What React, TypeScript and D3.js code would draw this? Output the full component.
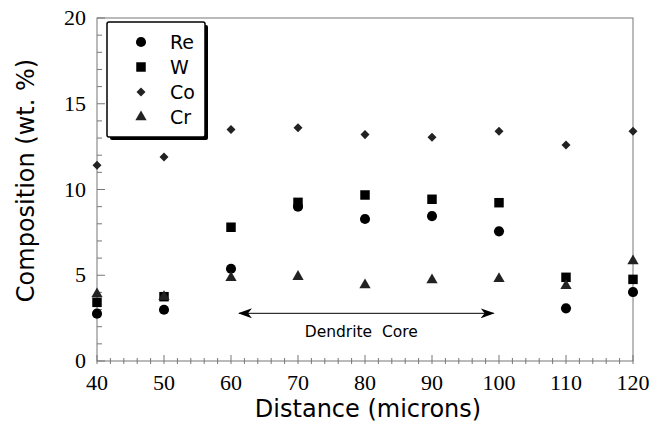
import React from "react";
import * as d3 from "d3";

const distances = [40, 50, 60, 70, 80, 90, 100, 110, 120];
const reValues = [2.76, 2.99, 5.38, 9.0, 8.28, 8.45, 7.56, 3.07, 4.02];
const wValues = [3.42, 3.75, 7.8, 9.25, 9.68, 9.43, 9.23, 4.88, 4.76];
const coValues = [11.41, 11.9, 13.5, 13.6, 13.2, 13.05, 13.4, 12.6, 13.4];
const crValues = [3.9, 3.75, 4.86, 4.92, 4.43, 4.72, 4.8, 4.39, 5.83];
const xTicks = [40, 50, 60, 70, 80, 90, 100, 110, 120];
const yTicks = [0, 5, 10, 15, 20];
const seriesNames = ["Re", "W", "Co", "Cr"];
const arrowRange = [61.2, 99.2];
const arrowLevel = 2.78;
const annotationAt = 61.6;
const annotation = "Dendrite  Core";

const W = 664, H = 429;
const M = { left: 97, right: 31, top: 18, bottom: 68 };

export default function App() {
  const x = d3.scaleLinear().domain([40, 120]).range([M.left, W - M.right]);
  const y = d3.scaleLinear().domain([0, 20]).range([H - M.bottom, M.top]);
  const sans = "DejaVu Sans";
  const serif = "Liberation Serif, Times New Roman, serif";

  const symbols = [d3.symbolCircle, d3.symbolSquare, d3.symbolDiamond2, d3.symbolTriangle];
  const sizes = [80, 90, 52, 55];
  const fills = ["#000", "#000", "#222", "#222"];
  const allSeries = [reValues, wValues, coValues, crValues];

  const shape = (i: number) => d3.symbol().type(symbols[i]).size(sizes[i])() as string;

  const yMinor = d3.range(0, 20.01, 1);
  const xMinor = d3.range(40, 120.01, 2);

  const [ax0, ax1] = arrowRange.map(x);
  const ay = y(arrowLevel);

  const lx = 107, ly = 22, lw = 98, lh = 115;

  return (
    <svg width={W} height={H} style={{ position: "absolute", left: 0, top: 0, background: "#fff" }}>
      <defs>
        <marker id="ah" viewBox="0 0 14 10" refX="13" refY="5" markerWidth="14" markerHeight="10" markerUnits="userSpaceOnUse" orient="auto-start-reverse">
          <path d="M0,0 L14,5 L0,10 L4,5 Z" fill="#000" />
        </marker>
      </defs>
      {/* frame */}
      <rect x={M.left} y={M.top} width={W - M.left - M.right} height={H - M.top - M.bottom} fill="none" stroke="#777" strokeWidth={1} />
      {/* y ticks */}
      {yMinor.map((v) => (
        <line key={"ym" + v} x1={M.left} x2={M.left + (v % 5 === 0 ? 8 : 5)} y1={y(v)} y2={y(v)} stroke="#777" />
      ))}
      {yTicks.map((v) => (
        <text key={"yt" + v} x={M.left - 11} y={y(v) + 7} textAnchor="end" fontFamily={serif} fontSize={22} fill="#000">{v}</text>
      ))}
      {/* x ticks */}
      {xMinor.map((v) => (
        <line key={"xm" + v} y1={y(0) + 3} y2={y(0) - ((v - 40) % 10 === 0 ? 6 : 3)} x1={x(v)} x2={x(v)} stroke="#777" />
      ))}
      {xTicks.map((v) => (
        <text key={"xt" + v} x={x(v)} y={y(0) + 29} textAnchor="middle" fontFamily={serif} fontSize={22} fill="#000">{v}</text>
      ))}
      <text x={(M.left + W - M.right) / 2 + 3} y={H - 12} textAnchor="middle" fontFamily={sans} fontSize={24} fill="#000">Distance (microns)</text>
      <text transform={`translate(34,${(M.top + H - M.bottom) / 2 - 9}) rotate(-90)`} textAnchor="middle" fontFamily={sans} fontSize={24} fill="#000">Composition (wt. %)</text>

      {/* arrow */}
      <line x1={ax0} x2={ax1} y1={ay} y2={ay} stroke="#000" strokeWidth={1} markerStart="url(#ah)" markerEnd="url(#ah)" />
      <text x={x(annotationAt) + 63} y={ay + 24} fontFamily={sans} fontSize={15.5} style={{ whiteSpace: "pre" }} fill="#000">{annotation}</text>

      {/* data */}
      {allSeries.map((vals, si) =>
        vals.map((v, i) => (
          <path key={si + "-" + i} d={shape(si)} transform={`translate(${x(distances[i])},${y(v)})`} fill={fills[si]} />
        ))
      )}

      {/* legend */}
      <rect x={lx + 3} y={ly + 3} width={lw} height={lh} fill="#000" rx={2} />
      <rect x={lx} y={ly} width={lw} height={lh} fill="#fff" stroke="#000" strokeWidth={1.5} rx={2} />
      {seriesNames.map((n, i) => (
        <g key={n} transform={`translate(0,${ly + 20 + i * 25})`}>
          <path d={shape(i)} transform={`translate(${lx + 34},0)`} fill={fills[i]} />
          <text x={lx + 63} y={7} fontFamily={sans} fontSize={19} fill="#000">{n}</text>
        </g>
      ))}
    </svg>
  );
}
